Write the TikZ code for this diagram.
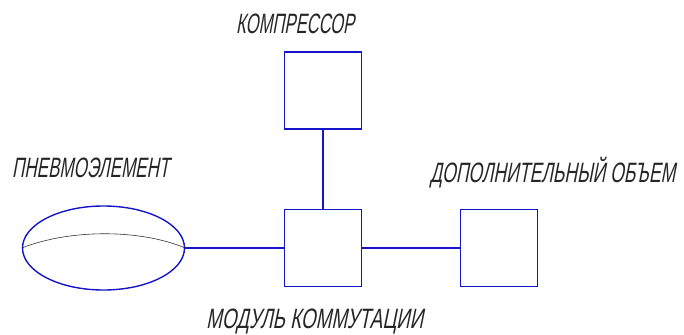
\documentclass[tikz,border=0pt]{standalone}
\usepackage{fontspec}
\setmainfont{Liberation Sans}[FakeSlant=0.3]
\usepackage{graphicx}
\usetikzlibrary{shapes.geometric}
\definecolor{wire}{RGB}{20,20,200}
\tikzset{
  unit/.style={draw=wire, line width=1.4pt, minimum width=77pt, minimum height=77pt, inner sep=0pt},
  pipe/.style={draw=wire, line width=1.4pt},
  caption/.style={anchor=base west, inner sep=0pt, text=black!85,
    font=\fontsize{28}{30}\selectfont},
}
% label stretched to a given width, natural height
\newcommand\fitlabel[2]{\resizebox{#1}{\height}{#2}}
\begin{document}
\begin{tikzpicture}[x=1pt, y=-1pt]
  \useasboundingbox (0,0) rectangle (684,334);

  \node[unit] (comp)  at (323,90.5) {};
  \node[unit] (mod)   at (323,248) {};
  \node[unit] (extra) at (499,248) {};
  \node[ellipse, draw=wire, line width=1.4pt, minimum width=162pt, minimum height=84pt, inner sep=0pt] (bal) at (103.5,248) {};

  % membrane inside the pneumatic element
  \draw[black!80, line width=0.6pt] (bal.west) .. controls (70,229) and (140,229) .. (bal.east);

  \draw[pipe] (comp.south) -- (mod.north);
  \draw[pipe] (bal.east) -- (mod.west);
  \draw[pipe] (mod.east) -- (extra.west);

  \node[caption] (tcomp)  at (236,34)  {\fitlabel{118pt}{КОМПРЕССОР}};
  \node[caption] (tbal)   at (12,177)  {\fitlabel{157pt}{ПНЕВМОЭЛЕМЕНТ}};
  \node[caption] (textra) at (430,182) {\fitlabel{245pt}{ДОПОЛНИТЕЛЬНЫЙ ОБЪЕМ}};
  \node[caption] (tmod)   at (206,328) {\fitlabel{217pt}{МОДУЛЬ КОММУТАЦИИ}};
\end{tikzpicture}
\end{document}
